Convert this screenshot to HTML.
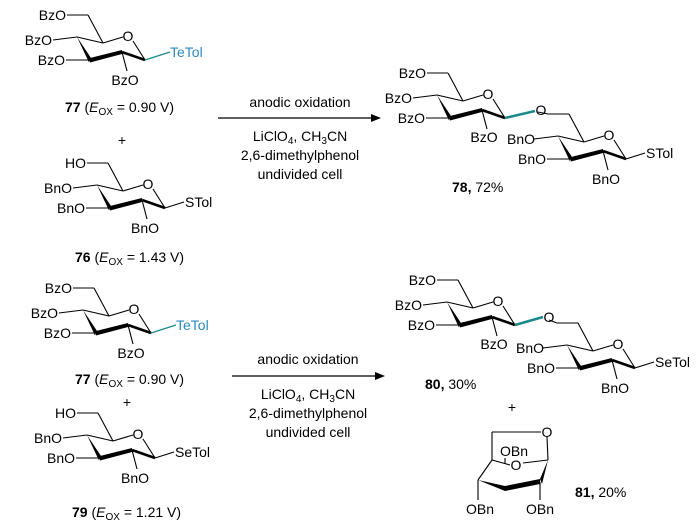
<!DOCTYPE html>
<html><head><meta charset="utf-8"><style>
body{margin:0;background:#fff}
svg{display:block;font-family:"Liberation Sans",Arial,sans-serif;font-size:14px}
</style></head><body>
<svg width="699" height="528" viewBox="0 0 699 528" xmlns="http://www.w3.org/2000/svg">
<defs>
<g id="ring" stroke="#000" stroke-width="1.1" fill="none">
<line x1="11" y1="-22" x2="26" y2="6"/>
<line x1="0" y1="0" x2="26" y2="6"/>
<line x1="26" y1="6" x2="46" y2="0"/>
<line x1="56" y1="4" x2="68" y2="23"/>
<line x1="68" y1="23" x2="45" y2="15" stroke-width="2.6"/>
<polygon points="13,21 45,13 45,17 13,25.5" fill="#000" stroke="none"/>
<polygon points="0,0 14,21 12,25.5" fill="#000" stroke="none"/>
<line x1="11" y1="-22" x2="-10" y2="-22"/>
<line x1="0" y1="0" x2="-24" y2="3"/>
<line x1="13" y1="23" x2="-11" y2="23"/>
<line x1="45" y1="15" x2="50" y2="34"/>
</g>
</defs>

<!-- 77 top -->
<g transform="translate(77,37)">
<use href="#ring"/>
<text x="51" y="4" text-anchor="middle">O</text>
<text x="-11" y="-17" text-anchor="end">BzO</text>
<text x="-25" y="8" text-anchor="end">BzO</text>
<text x="-12" y="28" text-anchor="end">BzO</text>
<text x="48" y="48" text-anchor="middle">BzO</text>
<line x1="68" y1="23" x2="93" y2="15" stroke="#1a8a8a" stroke-width="1.3"/>
<text x="93" y="20" fill="#2a8ac0">TeTol</text>
</g>
<text x="65" y="112"><tspan font-weight="bold">77</tspan>  (<tspan font-style="italic">E</tspan><tspan font-size="10" dy="3">OX</tspan><tspan dy="-3"> = 0.90 V)</tspan></text>
<text x="122" y="145" text-anchor="middle">+</text>

<!-- 76 -->
<g transform="translate(97,185)">
<use href="#ring"/>
<text x="51" y="4" text-anchor="middle">O</text>
<text x="-11" y="-17" text-anchor="end">HO</text>
<text x="-25" y="8" text-anchor="end">BnO</text>
<text x="-12" y="28" text-anchor="end">BnO</text>
<text x="48" y="48" text-anchor="middle">BnO</text>
<line x1="68" y1="23" x2="87" y2="17" stroke="#000" stroke-width="1.1"/>
<text x="88" y="22">STol</text>
</g>
<text x="75" y="262"><tspan font-weight="bold">76</tspan>  (<tspan font-style="italic">E</tspan><tspan font-size="10" dy="3">OX</tspan><tspan dy="-3"> = 1.43 V)</tspan></text>

<!-- arrow 1 -->
<line x1="218" y1="118" x2="374" y2="118" stroke="#000" stroke-width="1.2"/>
<polygon points="381,118 371,114 371,122" fill="#000"/>
<g text-anchor="middle">
<text x="300" y="107">anodic oxidation</text>
<text x="300" y="141">LiClO<tspan font-size="10" dy="3">4</tspan><tspan dy="-3">, CH</tspan><tspan font-size="10" dy="3">3</tspan><tspan dy="-3">CN</tspan></text>
<text x="300" y="160">2,6-dimethylphenol</text>
<text x="300" y="179">undivided cell</text>
</g>

<!-- 78 -->
<g transform="translate(437,95)">
<use href="#ring"/>
<text x="51" y="4" text-anchor="middle">O</text>
<text x="-11" y="-17" text-anchor="end">BzO</text>
<text x="-25" y="8" text-anchor="end">BzO</text>
<text x="-12" y="28" text-anchor="end">BzO</text>
<text x="47" y="47" text-anchor="middle">BzO</text>
<line x1="68" y1="23" x2="98" y2="16" stroke="#1a8a8a" stroke-width="2.6"/>
<text x="104" y="20" text-anchor="middle">O</text>
</g>
<g transform="translate(558,136)">
<use href="#ring"/>
<line x1="-10" y1="-22" x2="-20" y2="-24" stroke="#000" stroke-width="1.1"/>
<text x="51" y="4" text-anchor="middle">O</text>
<text x="-23" y="8" text-anchor="end">BnO</text>
<text x="-12" y="28" text-anchor="end">BnO</text>
<text x="48" y="48" text-anchor="middle">BnO</text>
<line x1="68" y1="23" x2="87" y2="17" stroke="#000" stroke-width="1.1"/>
<text x="88" y="22">STol</text>
</g>
<text x="452" y="192"><tspan font-weight="bold">78,</tspan> 72%</text>

<!-- 77 bottom -->
<g transform="translate(83,310)">
<use href="#ring"/>
<text x="51" y="4" text-anchor="middle">O</text>
<text x="-11" y="-17" text-anchor="end">BzO</text>
<text x="-25" y="8" text-anchor="end">BzO</text>
<text x="-12" y="28" text-anchor="end">BzO</text>
<text x="48" y="48" text-anchor="middle">BzO</text>
<line x1="68" y1="23" x2="93" y2="15" stroke="#1a8a8a" stroke-width="1.3"/>
<text x="93" y="20" fill="#2a8ac0">TeTol</text>
</g>
<text x="75" y="384"><tspan font-weight="bold">77</tspan> (<tspan font-style="italic">E</tspan><tspan font-size="10" dy="3">OX</tspan><tspan dy="-3"> = 0.90 V)</tspan></text>
<text x="127" y="407" text-anchor="middle">+</text>

<!-- 79 -->
<g transform="translate(87,435)">
<use href="#ring"/>
<text x="51" y="4" text-anchor="middle">O</text>
<text x="-11" y="-17" text-anchor="end">HO</text>
<text x="-25" y="8" text-anchor="end">BnO</text>
<text x="-12" y="28" text-anchor="end">BnO</text>
<text x="48" y="48" text-anchor="middle">BnO</text>
<line x1="68" y1="23" x2="87" y2="17" stroke="#000" stroke-width="1.1"/>
<text x="88" y="22">SeTol</text>
</g>
<text x="72" y="517"><tspan font-weight="bold">79</tspan> (<tspan font-style="italic">E</tspan><tspan font-size="10" dy="3">OX</tspan><tspan dy="-3"> = 1.21 V)</tspan></text>

<!-- arrow 2 -->
<line x1="232" y1="376" x2="378" y2="376" stroke="#000" stroke-width="1.2"/>
<polygon points="385,376 375,372 375,380" fill="#000"/>
<g text-anchor="middle">
<text x="308" y="364">anodic oxidation</text>
<text x="308" y="399">LiClO<tspan font-size="10" dy="3">4</tspan><tspan dy="-3">, CH</tspan><tspan font-size="10" dy="3">3</tspan><tspan dy="-3">CN</tspan></text>
<text x="308" y="418">2,6-dimethylphenol</text>
<text x="308" y="437">undivided cell</text>
</g>

<!-- 80 -->
<g transform="translate(447,302)">
<use href="#ring"/>
<text x="51" y="4" text-anchor="middle">O</text>
<text x="-11" y="-17" text-anchor="end">BzO</text>
<text x="-25" y="8" text-anchor="end">BzO</text>
<text x="-12" y="28" text-anchor="end">BzO</text>
<text x="47" y="47" text-anchor="middle">BzO</text>
<line x1="68" y1="23" x2="96" y2="15" stroke="#1a8a8a" stroke-width="2.6"/>
<text x="102" y="20" text-anchor="middle">O</text>
</g>
<g transform="translate(567,345)">
<use href="#ring"/>
<line x1="-10" y1="-22" x2="-18" y2="-25" stroke="#000" stroke-width="1.1"/>
<text x="51" y="4" text-anchor="middle">O</text>
<text x="-23" y="8" text-anchor="end">BnO</text>
<text x="-12" y="28" text-anchor="end">BnO</text>
<text x="48" y="48" text-anchor="middle">BnO</text>
<line x1="68" y1="23" x2="87" y2="17" stroke="#000" stroke-width="1.1"/>
<text x="88" y="22">SeTol</text>
</g>
<text x="425" y="389"><tspan font-weight="bold">80,</tspan> 30%</text>
<text x="512" y="412" text-anchor="middle">+</text>

<!-- 81 -->
<g stroke="#000" stroke-width="1.1" fill="none">
<line x1="492" y1="432" x2="541" y2="432"/>
<line x1="492" y1="432" x2="492" y2="460"/>
<line x1="547" y1="437" x2="548" y2="460"/>
<line x1="492" y1="460" x2="478" y2="480"/>
<line x1="478" y1="480" x2="478" y2="500"/>
<line x1="540" y1="482" x2="540" y2="500"/>
<line x1="505" y1="458" x2="505" y2="464"/>
<line x1="523" y1="463" x2="548" y2="460"/>
<line x1="492" y1="460" x2="510" y2="465"/>
</g>
<polygon points="478,480 505,486 505,491" fill="#000"/>
<polygon points="505,486 540,479 540,484 505,491" fill="#000"/>
<polygon points="540,479 548,460 542,484" fill="#000"/>
<text x="547" y="437" text-anchor="middle">O</text>
<text x="500" y="456">OBn</text>
<text x="516" y="470" text-anchor="middle">O</text>
<text x="466" y="514">OBn</text>
<text x="526" y="514">OBn</text>
<text x="575" y="497"><tspan font-weight="bold">81,</tspan> 20%</text>
</svg>
</body></html>
